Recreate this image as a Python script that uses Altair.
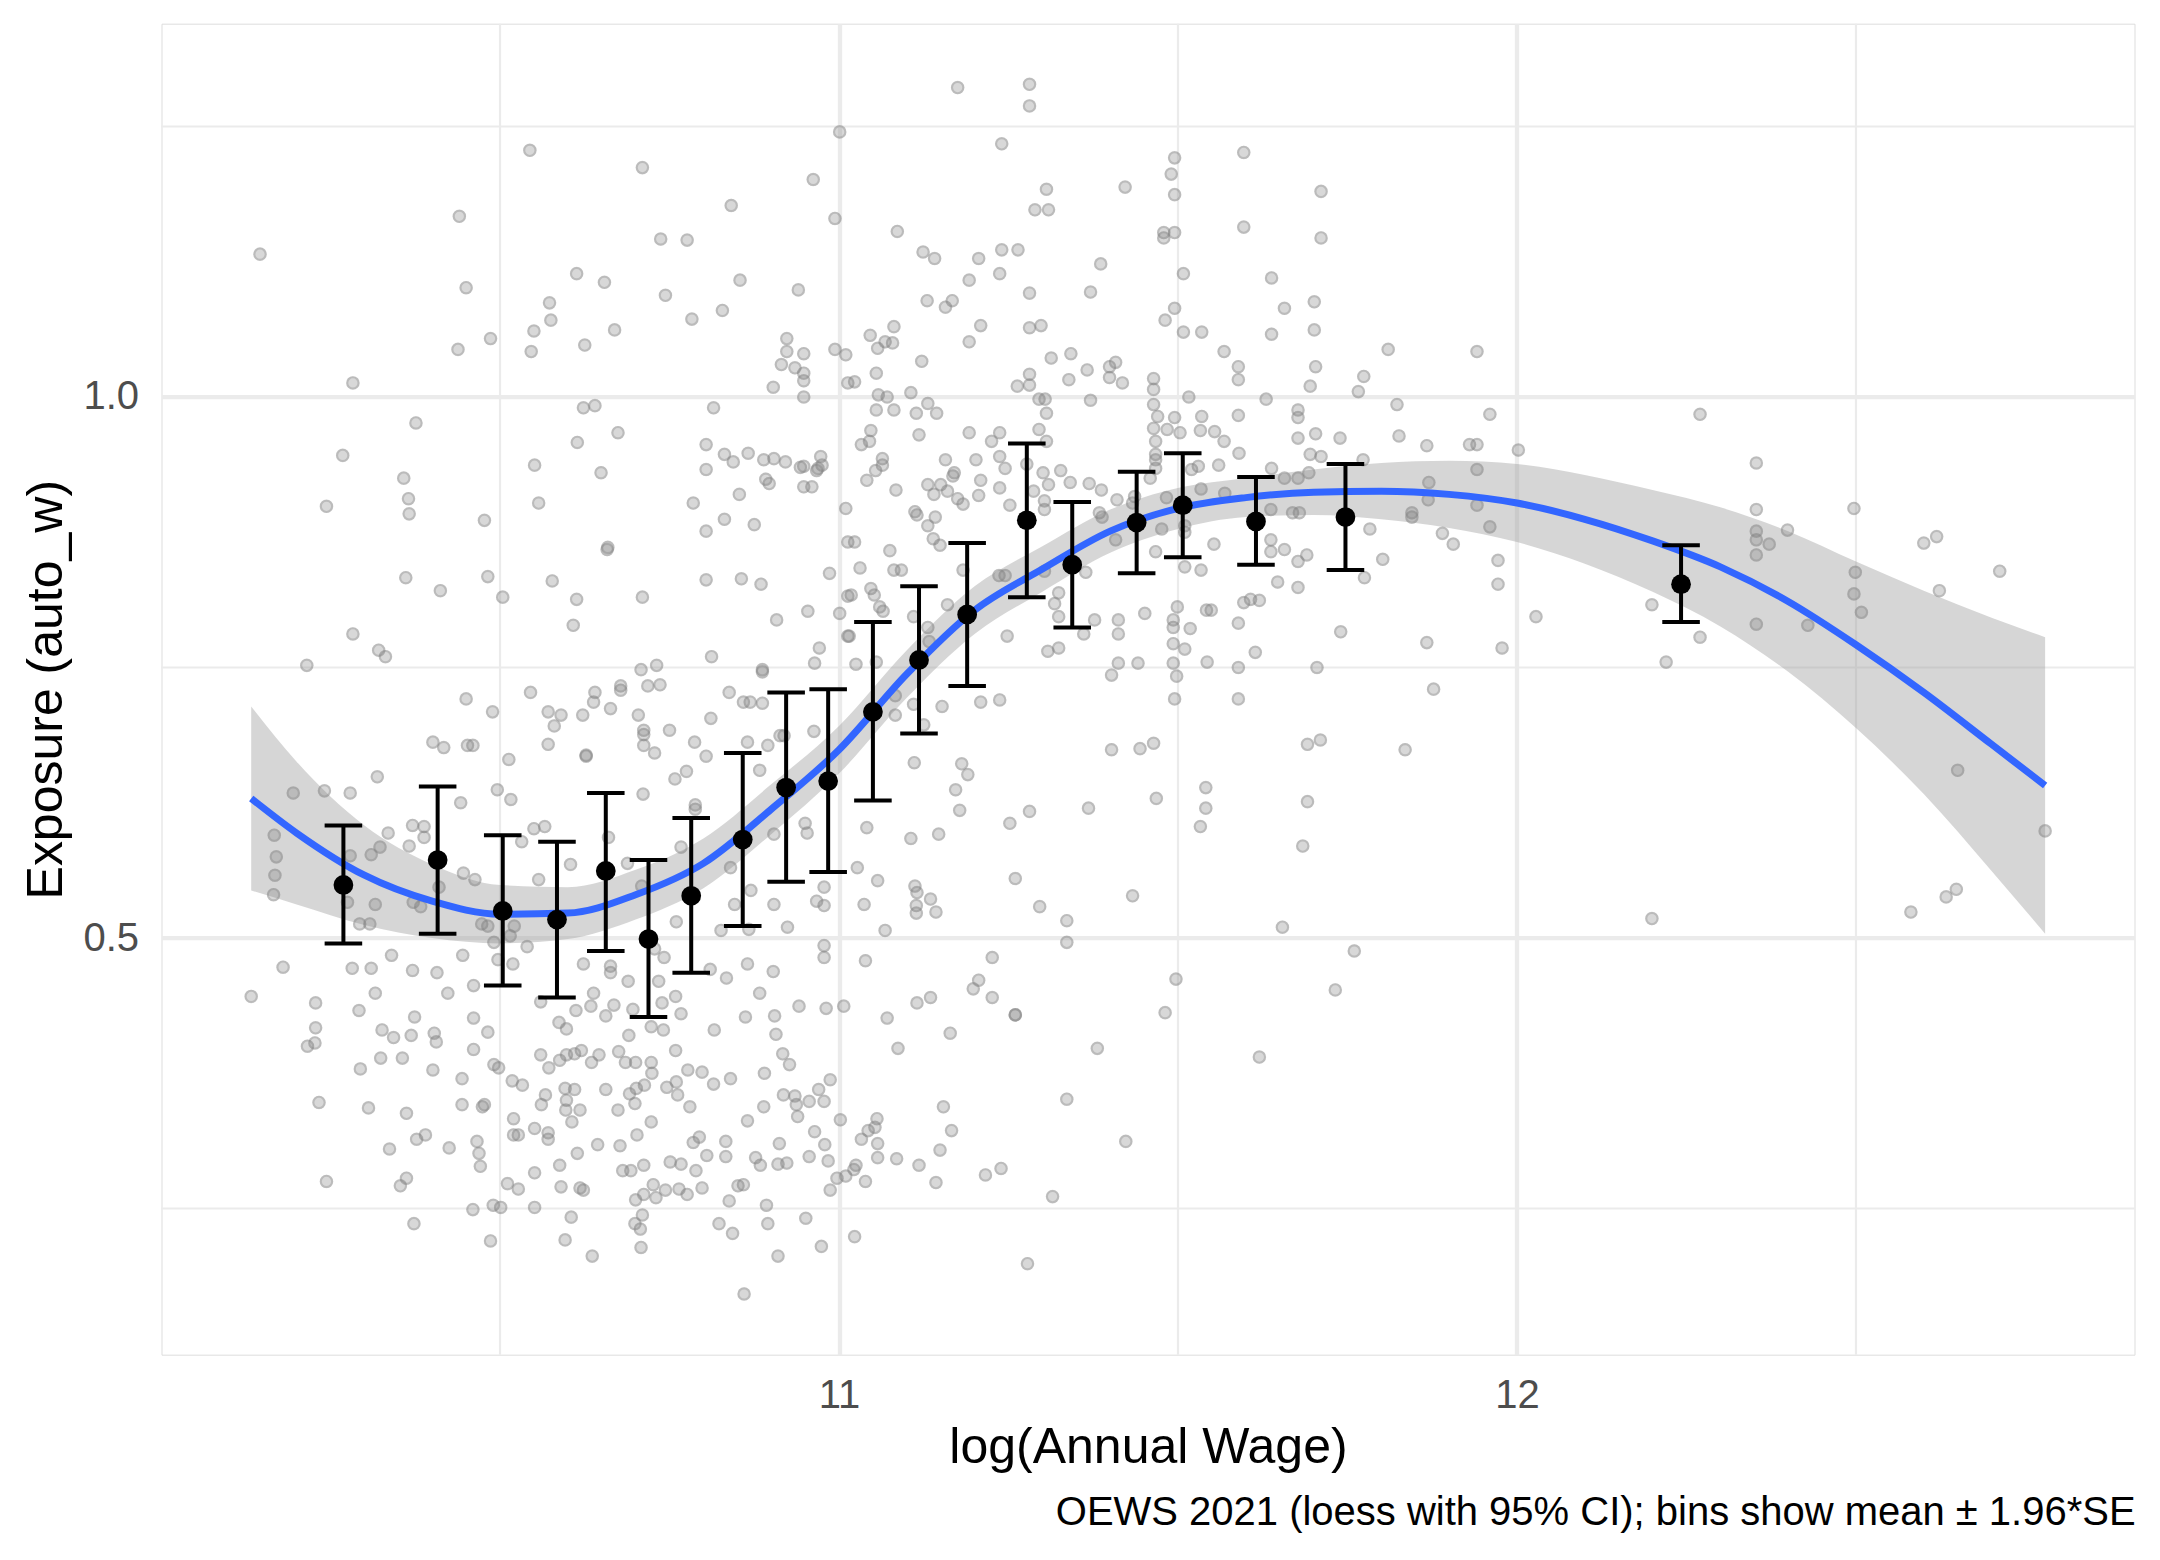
import altair as alt
import pandas as pd

# ---------------- data ----------------
# scatter of occupations: (log annual wage, exposure)
scatter_pts = [
(11.001,1.245),(10.544,1.228),(10.710,1.212),(10.962,1.201),(10.440,1.167),(10.841,1.177),(10.994,1.165),(10.146,1.132),(10.737,1.146),(10.776,1.145),(10.613,1.114),(10.654,1.106),(10.854,1.108),(10.450,1.101),(10.744,1.094),(10.940,1.099),(10.573,1.087),(10.575,1.071),(10.828,1.080),(10.783,1.072),(10.550,1.061),(10.669,1.062),(10.486,1.054),(10.438,1.044),(10.546,1.042),(10.625,1.048),(10.923,1.054),(10.923,1.042),(10.948,1.040),(10.994,1.044),(11.010,1.039),(10.915,1.030),(10.935,1.027),(10.948,1.022),(10.948,1.015),(10.903,1.009),(10.948,1.000),(10.283,1.013),(11.013,1.013),(10.623,0.990),(10.640,0.992),(10.815,0.990),(10.376,0.976),(10.614,0.958),(10.674,0.967),(10.804,0.956),(10.268,0.946),(10.551,0.937),(10.649,0.930),(10.804,0.933),(10.831,0.947),(10.844,0.940),(10.866,0.948),(10.889,0.942),(10.904,0.943),(10.921,0.940),(10.943,0.935),(10.948,0.936),(10.967,0.932),(10.969,0.934),(10.973,0.945),(10.975,0.937),(10.358,0.925),(10.244,0.899),(10.365,0.906),(10.366,0.892),(10.557,0.902),(10.477,0.886),(10.892,0.924),(10.897,0.920),(10.853,0.910),(10.948,0.917),(10.960,0.917),(10.785,0.902),(10.831,0.887),(10.875,0.882),(10.804,0.876),(11.010,0.897),(11.013,0.866),(10.658,0.859),(10.659,0.861),(10.361,0.833),(10.412,0.821),(10.482,0.834),(10.504,0.815),(10.577,0.830),(10.613,0.813),(10.608,0.789),(10.710,0.815),(10.804,0.831),(10.856,0.832),(10.885,0.827),(10.986,0.837),(11.013,0.816),(10.908,0.794),(10.954,0.802),(11.001,0.800),(11.013,0.779),(10.283,0.781),(10.321,0.766),(10.331,0.760),(10.215,0.752),(10.812,0.760),(10.708,0.748),(10.731,0.752),(10.887,0.748),(10.887,0.746),(10.971,0.768),(10.964,0.754),
(10.450,0.721),(10.545,0.727),(10.640,0.727),(10.678,0.733),(10.678,0.729),(10.718,0.733),(10.736,0.734),(10.838,0.727),(10.859,0.718),(10.869,0.718),(10.887,0.717),(10.489,0.709),(10.571,0.709),(10.590,0.706),(10.580,0.696),(10.622,0.706),(10.638,0.718),(10.663,0.712),(10.704,0.706),(10.712,0.692),(10.712,0.688),(10.712,0.678),(10.728,0.671),(10.750,0.692),(10.811,0.703),(10.787,0.681),(10.804,0.668),(10.865,0.681),(10.895,0.678),(10.913,0.687),(10.919,0.687),(10.963,0.691),(10.401,0.681),(10.417,0.676),(10.452,0.678),(10.460,0.678),(10.571,0.679),(10.513,0.665),(10.627,0.669),(10.627,0.668),(10.319,0.649),(10.758,0.647),(10.775,0.654),(10.883,0.655),(10.195,0.634),(10.241,0.636),(10.279,0.634),(10.496,0.637),(10.516,0.628),(10.442,0.625),(10.711,0.633),(10.788,0.623),(10.788,0.619),(10.167,0.595),(10.170,0.575),(10.168,0.558),(10.166,0.540),(10.335,0.597),(10.371,0.604),(10.388,0.603),(10.388,0.593),(10.366,0.585),(10.323,0.584),(10.310,0.577),(10.279,0.576),(10.550,0.601),(10.566,0.603),(10.532,0.589),(10.660,0.593),(10.767,0.584),(10.688,0.569),(10.604,0.568),(10.446,0.560),(10.463,0.554),(10.557,0.554),(10.840,0.565),(10.904,0.596),(10.950,0.606),(10.953,0.597),(10.275,0.533),(10.316,0.531),(10.372,0.533),(10.383,0.529),(10.410,0.547),(10.293,0.513),(10.308,0.513),(10.473,0.513),(10.482,0.511),(10.521,0.511),(10.515,0.502),(10.491,0.496),(10.540,0.492),(10.709,0.548),(10.760,0.515),(10.846,0.531),(10.870,0.544),(10.826,0.507),(10.867,0.508),(10.904,0.531),(10.924,0.510),(10.978,0.547),(10.967,0.534),(10.978,0.530),(10.978,0.493),(10.978,0.482),
(10.180,0.473),(10.282,0.472),(10.310,0.472),(10.340,0.484),(10.371,0.470),(10.407,0.468),(10.445,0.484),(10.497,0.480),(10.519,0.476),(10.623,0.476),(10.663,0.474),(10.663,0.468),(10.689,0.460),(10.728,0.490),(10.742,0.482),(10.734,0.460),(10.810,0.471),(10.834,0.463),(10.865,0.476),(10.903,0.469),
(10.133,0.446),(10.228,0.440),(10.316,0.449),(10.292,0.433),(10.374,0.427),(10.461,0.456),(10.423,0.449),(10.461,0.426),(10.482,0.413),(10.228,0.417),(10.227,0.403),(10.216,0.400),(10.326,0.415),(10.343,0.408),(10.369,0.410),(10.403,0.412),(10.406,0.404),(10.461,0.397),(10.560,0.441),(10.612,0.433),(10.634,0.437),(10.668,0.438),(10.656,0.428),(10.587,0.422),(10.598,0.416),(10.638,0.449),(10.696,0.434),(10.723,0.418),(10.741,0.415),(10.759,0.446),(10.739,0.440),(10.767,0.430),(10.690,0.410),(10.759,0.396),(10.816,0.415),(10.862,0.427),(10.905,0.428),(10.907,0.411),(10.883,0.449),(10.941,0.437),(10.981,0.435),(11.007,0.437),
(10.294,0.379),(10.324,0.389),(10.356,0.389),(10.401,0.378),(10.444,0.370),(10.491,0.383),(10.498,0.380),(10.518,0.368),(10.533,0.364),(10.560,0.392),(10.572,0.380),(10.588,0.387),(10.598,0.392),(10.610,0.393),(10.620,0.396),(10.635,0.385),(10.646,0.392),(10.675,0.395),(10.685,0.385),(10.700,0.385),(10.723,0.385),(10.724,0.375),(10.777,0.378),(10.798,0.376),(10.815,0.365),(10.840,0.370),(10.890,0.375),(10.917,0.393),(10.927,0.383),(10.987,0.369),
(10.233,0.348),(10.306,0.343),(10.362,0.338),(10.444,0.346),(10.474,0.344),(10.477,0.346),(10.520,0.333),(10.567,0.355),(10.561,0.346),(10.596,0.361),(10.610,0.360),(10.598,0.350),(10.597,0.341),(10.618,0.341),(10.606,0.330),(10.656,0.360),(10.674,0.341),(10.691,0.356),(10.699,0.347),(10.701,0.361),(10.713,0.364),(10.746,0.362),(10.760,0.367),(10.762,0.355),(10.780,0.344),(10.723,0.330),(10.865,0.331),(10.889,0.344),(10.918,0.355),(10.935,0.354),(10.937,0.346),(10.939,0.335),(10.956,0.349),(10.970,0.360),(10.978,0.349),(11.002,0.332),
(10.337,0.305),(10.377,0.314),(10.390,0.318),(10.425,0.306),(10.466,0.312),(10.469,0.301),(10.471,0.289),(10.520,0.318),(10.551,0.324),(10.571,0.320),(10.571,0.314),(10.527,0.318),(10.551,0.283),(10.588,0.290),(10.614,0.301),(10.644,0.309),(10.677,0.308),(10.702,0.318),(10.681,0.285),(10.693,0.285),(10.712,0.290),(10.751,0.293),(10.767,0.291),(10.785,0.311),(10.794,0.316),(10.789,0.285),(10.805,0.299),(10.833,0.312),(10.833,0.298),(10.877,0.297),(10.884,0.290),(10.910,0.291),(10.923,0.292),(10.912,0.310),(10.956,0.298),(10.964,0.321),(10.979,0.309),(10.984,0.294),(10.997,0.278),(11.010,0.280),
(10.244,0.275),(10.353,0.271),(10.362,0.278),(10.511,0.273),(10.527,0.268),(10.590,0.270),(10.618,0.269),(10.623,0.267),(10.700,0.258),(10.712,0.263),(10.726,0.272),(10.730,0.260),(10.744,0.267),(10.764,0.268),(10.776,0.263),(10.798,0.269),(10.838,0.257),(10.851,0.271),(10.859,0.272),(10.893,0.253),(10.987,0.267),
(10.460,0.249),(10.490,0.253),(10.501,0.251),(10.551,0.251),(10.373,0.236),(10.605,0.242),(10.710,0.244),(10.699,0.236),(10.707,0.231),(10.823,0.236),(10.843,0.227),(10.895,0.236),(10.951,0.241),(10.486,0.220),(10.596,0.221),(10.708,0.214),(10.636,0.206),(10.910,0.206),(10.974,0.215),(10.860,0.171),
(11.175,1.286),(11.281,1.289),(11.281,1.269),(11.240,1.234),(11.597,1.226),(11.495,1.221),(11.490,1.206),(11.495,1.187),(11.306,1.192),(11.422,1.194),(11.711,1.190),(11.289,1.173),(11.309,1.173),(11.086,1.153),(11.597,1.157),(11.479,1.152),(11.479,1.147),(11.495,1.152),(11.711,1.147),(11.124,1.134),(11.141,1.128),(11.206,1.128),(11.240,1.136),(11.264,1.136),(11.237,1.114),(11.386,1.123),(11.192,1.108),(11.508,1.114),(11.638,1.110),(11.281,1.096),(11.371,1.097),(11.130,1.089),(11.167,1.089),(11.157,1.083),(11.495,1.082),(11.657,1.082),(11.701,1.088),(11.081,1.065),(11.209,1.066),(11.281,1.064),(11.298,1.066),(11.481,1.071),(11.508,1.060),(11.535,1.060),(11.638,1.058),(11.701,1.062),(11.046,1.057),(11.068,1.051),(11.057,1.045),(11.079,1.050),(11.192,1.051),(11.023,1.014),(11.122,1.033),(11.055,1.022),(11.058,1.002),(11.071,1.000),(11.106,1.004),(11.055,0.988),(11.081,0.988),(11.114,0.985),(11.131,0.994),(11.144,0.985),(11.313,1.036),(11.342,1.040),(11.366,1.025),(11.399,1.028),(11.408,1.032),(11.399,1.018),(11.418,1.013),(11.339,1.016),(11.281,1.021),(11.263,1.010),(11.281,1.011),(11.295,0.998),(11.304,0.998),(11.306,0.985),(11.371,0.997),(11.464,1.017),(11.464,1.007),(11.464,0.993),(11.568,1.042),(11.589,1.028),(11.589,1.016),(11.703,1.028),(11.695,1.010),(11.774,1.019),(11.766,1.005),(11.810,1.044),(11.941,1.042),(11.516,1.000),(11.630,0.998),(11.823,0.993),(11.960,0.984),(11.470,0.982),(11.495,0.981),(11.535,0.982),(11.589,0.983),(11.677,0.988),(11.677,0.981),(11.464,0.971),(11.484,0.970),(11.503,0.967),(11.533,0.969),(11.554,0.968),(11.568,0.959),(11.467,0.959),(11.467,0.947),(11.467,0.942),(11.590,0.948),(11.677,0.962),(11.703,0.966),(11.739,0.962),(11.826,0.964),(11.867,0.955),(11.930,0.956),(11.941,0.956),(11.695,0.947),(11.711,0.945),(11.773,0.942),(11.941,0.933),(11.870,0.921),(11.869,0.905),(11.941,0.900),(11.960,0.880),(11.845,0.893),(11.845,0.889),(11.890,0.874),(11.906,0.864),(11.802,0.850),(11.775,0.833),(11.783,0.878),(11.679,0.893),(11.669,0.893),(11.638,0.934),(11.657,0.925),(11.677,0.925),(11.693,0.930),(11.637,0.896),(11.637,0.857),(11.657,0.859),(11.677,0.848),(11.677,0.824),(11.647,0.829),(11.690,0.854),(11.637,0.868),(11.553,0.864),(11.534,0.915),(11.534,0.840),(11.510,0.843),(11.560,0.937),(11.530,0.936),(11.520,0.933),(11.467,0.934),(11.459,0.925),(11.569,0.911),(11.483,0.907),(11.510,0.881),(11.510,0.875),(11.467,0.857),(11.476,0.878),(11.436,0.908),(11.433,0.902),(11.410,0.905),(11.387,0.914),(11.384,0.893),(11.388,0.889),(11.408,0.868),(11.369,0.920),(11.341,0.921),(11.327,0.932),(11.301,0.930),(11.309,0.919),(11.287,0.913),(11.303,0.904),(11.303,0.896),(11.277,0.938),(11.306,0.959),(11.295,0.970),(11.237,0.967),(11.192,0.967),(11.225,0.959),(11.237,0.945),(11.245,0.934),(11.237,0.916),(11.202,0.942),(11.209,0.923),(11.206,0.909),(11.157,0.942),(11.170,0.930),(11.168,0.927),(11.150,0.919),(11.131,0.919),(11.140,0.910),(11.160,0.913),(11.175,0.906),(11.183,0.901),(11.084,0.914),(11.064,0.943),(11.064,0.937),(11.041,0.923),(11.054,0.932),(11.033,0.956),(11.045,0.959),(11.047,0.969),(11.118,0.965),(11.252,0.900),(11.112,0.894),(11.115,0.891),(11.142,0.889),(11.131,0.881),(11.139,0.869),(11.149,0.863),(11.023,0.866),(11.075,0.858),(11.081,0.840),(11.092,0.840),(11.031,0.842),(11.047,0.823),(11.052,0.817),(11.060,0.806),(11.065,0.802),(11.018,0.817),(11.015,0.779),(11.025,0.753),(11.055,0.755),(11.110,0.797),(11.131,0.787),(11.133,0.774),(11.183,0.840),(11.160,0.808),(11.236,0.835),(11.245,0.835),(11.248,0.779),(11.303,0.839),(11.324,0.819),(11.318,0.809),(11.324,0.797),(11.364,0.838),(11.377,0.794),(11.361,0.781),(11.412,0.794),(11.412,0.781),(11.451,0.800),(11.308,0.765),(11.324,0.768),(11.412,0.754),(11.441,0.754),(11.402,0.743),(11.493,0.794),(11.493,0.787),(11.499,0.806),(11.518,0.786),(11.493,0.772),(11.510,0.767),(11.493,0.754),(11.498,0.742),(11.543,0.755),(11.542,0.803),(11.549,0.803),(11.589,0.791),(11.589,0.750),(11.597,0.810),(11.607,0.813),(11.620,0.812),(11.614,0.764),(11.705,0.750),(11.740,0.783),(11.867,0.773),(11.972,0.827),(11.972,0.849),
(11.495,0.721),(11.589,0.721),(11.877,0.730),(11.209,0.718),(11.237,0.720),(11.152,0.714),(11.110,0.716),(11.083,0.706),(11.125,0.697),(11.083,0.724),(11.402,0.674),(11.444,0.675),(11.464,0.680),(11.691,0.679),(11.710,0.683),(11.835,0.674),(11.111,0.662),(11.181,0.661),(11.190,0.651),(11.172,0.637),(11.178,0.618),(11.541,0.639),(11.541,0.620),(11.533,0.603),(11.468,0.629),(11.368,0.620),(11.691,0.626),(11.684,0.585),(11.281,0.617),(11.252,0.606),(11.041,0.602),(11.106,0.592),(11.147,0.596),(11.027,0.565),(11.057,0.553),(11.260,0.555),(11.112,0.548),(11.115,0.542),(11.135,0.536),(11.037,0.531),(11.114,0.530),(11.114,0.523),(11.143,0.524),(11.296,0.529),(11.336,0.516),(11.336,0.496),(11.433,0.539),(11.068,0.507),(11.654,0.510),(11.760,0.488),(11.039,0.479),(11.226,0.482),(11.206,0.461),(11.198,0.453),(11.226,0.445),(11.115,0.440),(11.135,0.445),(11.071,0.426),(11.497,0.462),(11.481,0.431),(11.732,0.452),(11.260,0.429),(11.260,0.429),(11.164,0.412),(11.087,0.398),(11.381,0.398),(11.620,0.390),(11.336,0.351),(11.154,0.344),(11.166,0.322),(11.056,0.333),(11.053,0.325),(11.043,0.322),(11.033,0.314),(11.057,0.310),(11.149,0.304),(11.057,0.297),(11.085,0.296),(11.118,0.290),(11.025,0.290),(11.022,0.286),(11.039,0.275),(11.143,0.274),(11.216,0.281),(11.239,0.287),(11.423,0.312),(11.315,0.261),(11.023,0.224),(11.278,0.199),
(12.270,0.984),(12.002,0.951),(12.353,0.939),(12.353,0.896),(12.497,0.897),(12.353,0.876),(12.353,0.868),(12.399,0.877),(12.372,0.864),(12.353,0.854),(12.600,0.865),(12.619,0.871),(12.712,0.839),(12.499,0.838),(12.497,0.818),(12.508,0.801),(12.623,0.821),(12.028,0.797),(11.978,0.768),(12.199,0.808),(12.270,0.778),(12.220,0.755),(12.353,0.790),(12.429,0.789),(12.650,0.655),(12.779,0.599),(12.581,0.524),(12.633,0.538),(12.648,0.545),(12.199,0.518),
]

# binned means with mean +/- 1.96*SE
bin_x    = [10.269, 10.408, 10.504, 10.584, 10.656, 10.719, 10.782, 10.858, 10.922, 10.984,
            11.050, 11.118, 11.189, 11.277, 11.344, 11.439, 11.507, 11.615, 11.747, 12.242]
bin_mean = [0.549, 0.572, 0.525, 0.517, 0.562, 0.499, 0.539, 0.591, 0.639, 0.645,
            0.709, 0.757, 0.799, 0.886, 0.845, 0.884, 0.900, 0.885, 0.889, 0.827]
bin_lo   = [0.495, 0.504, 0.456, 0.445, 0.488, 0.427, 0.468, 0.511, 0.552, 0.561,
            0.627, 0.689, 0.733, 0.815, 0.787, 0.837, 0.852, 0.845, 0.840, 0.792]
bin_hi   = [0.604, 0.640, 0.595, 0.589, 0.634, 0.572, 0.611, 0.671, 0.727, 0.730,
            0.792, 0.825, 0.865, 0.957, 0.903, 0.931, 0.948, 0.926, 0.938, 0.863]

# loess fit and half-width of its 95% band
fit_x  = [10.133, 10.2, 10.3, 10.4, 10.5, 10.6, 10.7, 10.8, 10.9, 11.0, 11.1, 11.2, 11.3, 11.4,
          11.5, 11.6, 11.7, 11.8, 11.9, 12.0, 12.1, 12.2, 12.3, 12.4, 12.5, 12.6, 12.7, 12.779]
fit_y  = [0.629, 0.597, 0.558, 0.534, 0.522, 0.523, 0.540, 0.569, 0.619, 0.674, 0.744, 0.803, 0.841, 0.876,
          0.897, 0.907, 0.912, 0.913, 0.910, 0.902, 0.887, 0.867, 0.843, 0.811, 0.771, 0.727, 0.679, 0.641]
fit_hw = [0.085, 0.066, 0.046, 0.034, 0.027, 0.024, 0.023, 0.023, 0.023, 0.022, 0.022, 0.022, 0.021, 0.020,
          0.019, 0.018, 0.021, 0.026, 0.031, 0.036, 0.041, 0.047, 0.055, 0.065, 0.077, 0.094, 0.117, 0.137]

x_major = [11, 12]
x_minor = [10.5, 11.5, 12.5]
y_major = [0.5, 1.0]
y_minor = [0.25, 0.75, 1.25]

x_domain = [10.0007, 12.9108]
y_domain = [0.1149, 1.3450]

# ---------------- chart ----------------
W, H = 1973, 1331
FONT = "Liberation Sans"
GRID = "#EBEBEB"
PT_GREY = "#7F7F7F"

pts = pd.DataFrame(scatter_pts, columns=["x", "y"])
bins = pd.DataFrame({"x": bin_x, "y": bin_mean, "lo": bin_lo, "hi": bin_hi})
fit = pd.DataFrame({"x": fit_x, "y": fit_y, "hw": fit_hw})

xs = alt.Scale(domain=x_domain, nice=False, zero=False)
ys = alt.Scale(domain=y_domain, nice=False, zero=False)

xaxis = alt.Axis(values=x_major, title="log(Annual Wage)", format="d",
                 grid=True, gridColor=GRID, gridWidth=4.3, ticks=False, tickSize=0,
                 domain=False, labelFontSize=40, labelColor="#4D4D4D", labelPadding=21,
                 labelFont=FONT, titleFont=FONT, titleFontSize=50, titleFontWeight="normal",
                 titleColor="black", titleX=W / 2, titleY=108, titleAlign="center",
                 titleBaseline="alphabetic")
yaxis = alt.Axis(values=y_major, title="Exposure (auto_w)", format=".1f",
                 grid=True, gridColor=GRID, gridWidth=4.3, ticks=False, tickSize=0,
                 domain=False, labelFontSize=40, labelColor="#4D4D4D", labelPadding=23,
                 labelFont=FONT, titleFont=FONT, titleFontSize=50, titleFontWeight="normal",
                 titleColor="black", titleAngle=270, titleX=-100, titleY=H / 2,
                 titleAlign="center", titleBaseline="alphabetic")

X = alt.X("x:Q", scale=xs, axis=xaxis)
Y = alt.Y("y:Q", scale=ys, axis=yaxis)

minor_v = alt.Chart(pd.DataFrame({"x": x_minor})).mark_rule(
    color=GRID, strokeWidth=2.2).encode(x=X, y=alt.value(0), y2=alt.value(H))
minor_h = alt.Chart(pd.DataFrame({"y": y_minor})).mark_rule(
    color=GRID, strokeWidth=2.2).encode(y=Y, x=alt.value(0), x2=alt.value(W))

band = alt.Chart(fit).transform_calculate(
    lo="datum.y - datum.hw", hi="datum.y + datum.hw"
).mark_area(color="#999999", opacity=0.4, interpolate="monotone").encode(
    x=X, y=alt.Y("lo:Q", scale=ys, axis=yaxis), y2="hi:Q")

# translucent points: a filled disc plus a translucent ring on its edge
scatter_fill = alt.Chart(pts).mark_circle(
    size=175, color=PT_GREY, opacity=0.3).encode(x=X, y=Y)
scatter_ring = alt.Chart(pts).mark_point(
    shape="circle", filled=False, size=130, color=PT_GREY, opacity=0.32,
    strokeWidth=2.2).encode(x=X, y=Y)

line = alt.Chart(fit).mark_line(color="#3366FF", strokeWidth=7,
                                interpolate="monotone").encode(x=X, y=Y)

err = alt.Chart(bins).mark_rule(color="black", strokeWidth=4).encode(
    x=X, y=alt.Y("lo:Q", scale=ys, axis=yaxis), y2="hi:Q")
cap_base = alt.Chart(bins).transform_calculate(
    xl="datum.x - 0.0277", xr="datum.x + 0.0277")
cap_lo = cap_base.mark_rule(color="black", strokeWidth=4).encode(
    x=alt.X("xl:Q", scale=xs, axis=xaxis), x2="xr:Q",
    y=alt.Y("lo:Q", scale=ys, axis=yaxis))
cap_hi = cap_base.mark_rule(color="black", strokeWidth=4).encode(
    x=alt.X("xl:Q", scale=xs, axis=xaxis), x2="xr:Q",
    y=alt.Y("hi:Q", scale=ys, axis=yaxis))
means = alt.Chart(bins).mark_circle(size=390, color="black", opacity=1).encode(x=X, y=Y)

chart = alt.layer(minor_v, minor_h, band, scatter_fill, scatter_ring, line,
                  err, cap_lo, cap_hi, means).properties(
    width=W, height=H,
    title=alt.TitleParams(
        text="OEWS 2021 (loess with 95% CI); bins show mean \u00b1 1.96*SE",
        orient="bottom", anchor="end", fontSize=40, fontWeight="normal",
        color="black", font=FONT, offset=20),
    autosize=alt.AutoSizeParams(type="none"),
    padding={"left": 153.5, "top": 15.7, "right": 17, "bottom": 197},
).configure_view(strokeWidth=0).configure(font=FONT, background="white")

chart.save("out.html", embed_options={"renderer": "svg", "actions": False})
